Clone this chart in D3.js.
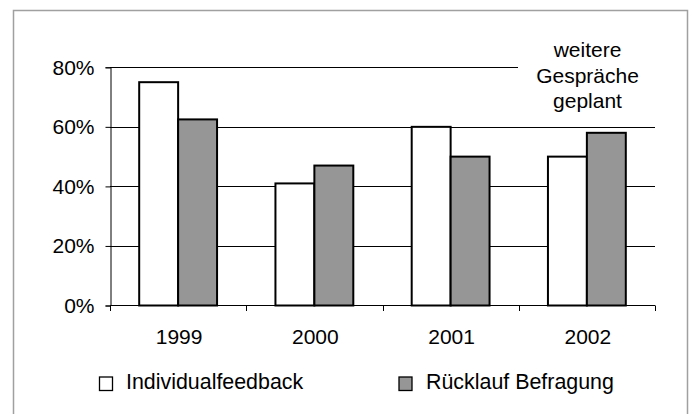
<!DOCTYPE html>
<html>
<head>
<meta charset="utf-8">
<script src="https://cdn.jsdelivr.net/npm/d3@7"></script>
<style>
  html, body { margin: 0; padding: 0; background: #fff; }
  svg { display: block; font-family: "Liberation Sans", Arial, sans-serif; }
</style>
</head>
<body>
<svg id="chart" width="695" height="414"></svg>
<script>
// Jahre und Anteile (in %)
const categories = ["1999", "2000", "2001", "2002"];
const individualfeedback = [75, 41, 60, 50];
const ruecklaufBefragung = [62.5, 47, 50, 58];
const seriesNames = ["Individualfeedback", "Rücklauf Befragung"];
const seriesColors = ["#ffffff", "#969696"];
const yTicks = [0, 20, 40, 60, 80];
const noteLines = ["weitere", "Gespräche", "geplant"];

const svg = d3.select("#chart");

// Plot area
const plotLeft = 110, plotRight = 655, plotBottom = 305.5, plotTop = 67.3;

const x = d3.scaleBand()
  .domain(categories)
  .range([plotLeft, plotRight])
  .paddingInner(0.4286)
  .paddingOuter(0.2143);

const xs = d3.scaleBand()
  .domain(seriesNames)
  .range([0, x.bandwidth()]);

const y = d3.scaleLinear().domain([0, 80]).range([plotBottom, plotTop]);

// Outer frame (open at the bottom)
svg.append("path")
  .attr("d", "M13.5,414 V10.5 H687.5 V414")
  .attr("fill", "none")
  .attr("stroke", "#a0a0a0")
  .attr("stroke-width", 1.5);

// Gridlines
svg.append("g")
  .selectAll("line")
  .data(yTicks.filter(d => d > 0))
  .join("line")
  .attr("x1", plotLeft).attr("x2", plotRight)
  .attr("y1", d => Math.round(y(d)) + 0.5)
  .attr("y2", d => Math.round(y(d)) + 0.5)
  .attr("stroke", "#000")
  .attr("stroke-width", 1);

// Y axis
const yAxis = svg.append("g")
  .attr("transform", `translate(${plotLeft + 0.5},0)`)
  .call(d3.axisLeft(y).tickValues(yTicks).tickSize(5).tickPadding(11)
    .tickFormat(d => d + "%"));
yAxis.select(".domain").attr("stroke", "#000");
yAxis.selectAll(".tick line").attr("stroke", "#000");
yAxis.selectAll(".tick text")
  .attr("font-size", "21px")
  .attr("font-family", "Liberation Sans, Arial, sans-serif")
  .attr("fill", "#000");

// Bars
const data = categories.map((c, i) => ({
  cat: c,
  vals: [individualfeedback[i], ruecklaufBefragung[i]]
}));

svg.append("g")
  .selectAll("g")
  .data(data)
  .join("g")
  .attr("transform", d => `translate(${x(d.cat)},0)`)
  .selectAll("rect")
  .data(d => d.vals.map((v, j) => ({ v, s: seriesNames[j], j })))
  .join("rect")
  .attr("x", d => xs(d.s))
  .attr("width", xs.bandwidth())
  .attr("y", d => y(d.v))
  .attr("height", d => y(0) - y(d.v))
  .attr("fill", d => seriesColors[d.j])
  .attr("stroke", "#000")
  .attr("stroke-width", 2);

// X axis line with boundary ticks
const xAxisG = svg.append("g");
xAxisG.append("line")
  .attr("x1", plotLeft).attr("x2", plotRight)
  .attr("y1", plotBottom).attr("y2", plotBottom)
  .attr("stroke", "#000").attr("stroke-width", 1);
const boundaries = d3.range(categories.length + 1).map(i => plotLeft + i * x.step());
xAxisG.selectAll(".bt")
  .data(boundaries)
  .join("line")
  .attr("class", "bt")
  .attr("x1", d => Math.round(d) + 0.5).attr("x2", d => Math.round(d) + 0.5)
  .attr("y1", plotBottom).attr("y2", plotBottom + 5.5)
  .attr("stroke", "#000");
xAxisG.selectAll("text")
  .data(categories)
  .join("text")
  .attr("x", d => x(d) + x.bandwidth() / 2 + 1)
  .attr("y", 344)
  .attr("text-anchor", "middle")
  .attr("font-size", "21px")
  .text(d => d);

// Text box note
svg.append("rect")
  .attr("x", 518).attr("y", 30)
  .attr("width", 140).attr("height", 88)
  .attr("fill", "#fff");
svg.append("g")
  .selectAll("text")
  .data(noteLines)
  .join("text")
  .attr("x", 587.5)
  .attr("y", (d, i) => 56.7 + i * 25.8)
  .attr("text-anchor", "middle")
  .attr("font-size", "21px")
  .text(d => d);

// Legend
const legendX = [99.5, 399];
const legendTextX = [126, 426];
const legend = svg.append("g");
seriesNames.forEach((name, i) => {
  legend.append("rect")
    .attr("x", legendX[i]).attr("y", 377)
    .attr("width", 13).attr("height", 13.5)
    .attr("fill", seriesColors[i])
    .attr("stroke", "#000")
    .attr("stroke-width", 1.3);
  legend.append("text")
    .attr("x", legendTextX[i]).attr("y", 388.5)
    .attr("font-size", "21.4px")
    .text(name);
});
</script>
</body>
</html>
